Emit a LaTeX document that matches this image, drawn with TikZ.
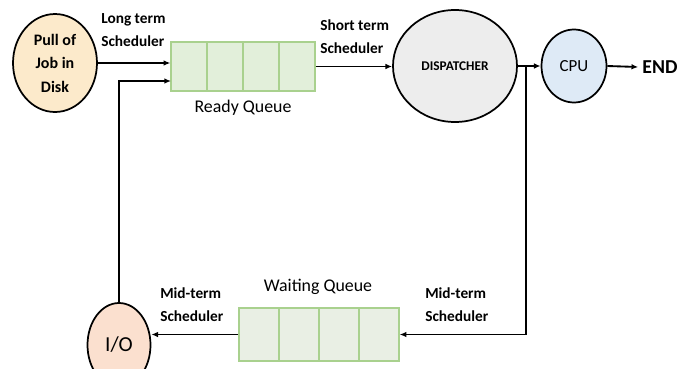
\documentclass[tikz,border=0pt]{standalone}
\usepackage{fontspec}
\setmainfont{Carlito}
\usetikzlibrary{arrows.meta,shapes.geometric}
\definecolor{pullfill}{HTML}{FCEACB}
\definecolor{dispfill}{HTML}{EDEDED}
\definecolor{cpufill}{HTML}{DEEAF6}
\definecolor{iofill}{HTML}{FBE0CF}
\definecolor{rqfill}{HTML}{E2EFDA}
\definecolor{wqfill}{HTML}{E9EFE4}
\definecolor{qborder}{HTML}{A9D18E}
\begin{document}
\begin{tikzpicture}[x=0.75pt,y=-0.75pt,
  blob/.style={ellipse,draw=black,line width=1.3pt,inner sep=0pt,align=center},
  qbox/.style={draw=qborder,line width=1pt,inner sep=0pt},
  qdiv/.style={draw=qborder,line width=1pt},
  link/.style={line width=1.4pt,draw=black},
  arr/.style={link,-{Latex[length=5pt,width=4.2pt]}},
  lbl/.style={font=\fontsize{11.5}{17.5}\selectfont\bfseries,align=left,inner sep=0pt},
  qname/.style={font=\fontsize{13.4}{16}\selectfont,inner sep=0pt}]
\useasboundingbox (0,0) rectangle (689,368);

% process nodes
\node[blob,fill=pullfill,minimum width=84*0.75pt,minimum height=98*0.75pt,
      font=\fontsize{12}{17.6}\selectfont\bfseries] (pull) at (55,63) {Pull of\\Job in\\Disk};
\node[blob,fill=dispfill,minimum width=124*0.75pt,minimum height=112*0.75pt,
      font=\fontsize{10}{12}\selectfont\bfseries] (disp) at (455,66) {DISPATCHER};
\node[blob,fill=cpufill,minimum width=65*0.75pt,minimum height=73*0.75pt,
      font=\fontsize{12.7}{15}\selectfont] (cpu) at (574,66) {CPU};
\node[blob,fill=iofill,minimum width=63*0.75pt,minimum height=84*0.75pt,
      font=\fontsize{16}{19}\selectfont] (io) at (119,345) {I/O};
\node[font=\fontsize{14.8}{17}\selectfont\bfseries,inner sep=0pt] (end) at (660,67) {END};

% ready queue
\node[qbox,fill=rqfill,minimum width=144*0.75pt,minimum height=49*0.75pt] (rq) at (243,66.5) {};
\draw[qdiv] (207,42) -- (207,91) (243,42) -- (243,91) (279,42) -- (279,91);
\node[qname] (rqname) at (243,108) {Ready Queue};

% waiting queue
\node[qbox,fill=wqfill,minimum width=160*0.75pt,minimum height=53*0.75pt] (wq) at (319,334.5) {};
\draw[qdiv] (279,308) -- (279,361) (319,308) -- (319,361) (359,308) -- (359,361);
\node[qname] (wqname) at (318,287) {Waiting Queue};

% scheduler labels
\node[lbl,anchor=west] (lts) at (101,30) {Long term\\Scheduler};
\node[lbl,anchor=west] (sts) at (320,37) {Short term\\Scheduler};
\node[lbl,anchor=west] (mtl) at (160,304.5) {Mid-term\\Scheduler};
\node[lbl,anchor=west] (mtr) at (425,304.5) {Mid-term\\Scheduler};

% connectors
\coordinate (rqback) at (171,81);
\coordinate (branch) at (526,66);
\draw[arr] (pull.east) -- (pull.east -| rq.west);
\draw[arr] (io.north) |- (rqback);
\draw[arr] (rq.east) -- (rq.east -| disp.west);
\draw[arr] (disp.east) -- (cpu.west);
\draw[arr] (cpu.east) -- ([xshift=-3pt]end.west);
\draw[arr] (branch) |- (wq.east);
\draw[arr] (wq.west) -- (wq.west -| io.east);
\end{tikzpicture}
\end{document}
